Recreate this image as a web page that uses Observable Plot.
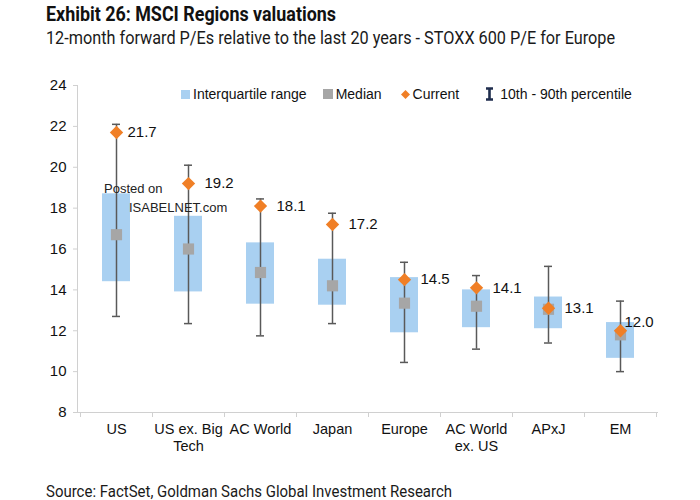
<!DOCTYPE html>
<html>
<head>
<meta charset="utf-8">
<script src="https://cdn.jsdelivr.net/npm/d3@7"></script>
<script src="https://cdn.jsdelivr.net/npm/@observablehq/plot@0.6"></script>
<style>
  html, body { margin: 0; padding: 0; background: #fff; }
  #wrap { position: relative; width: 700px; height: 500px; overflow: hidden; }
  .cond { font-family: Roboto, "DejaVu Sans", sans-serif; color: #1a1a1a; line-height: 1; white-space: nowrap; transform-origin: 0 0; position: absolute; }
  #title { left: 46px; top: 4px; font-size: 20px; font-weight: bold; color: #111; }
  #subtitle { left: 46px; top: 29px; font-size: 18px; }
  #source { left: 46px; top: 482.5px; font-size: 17px; }
  #chart { position: absolute; left: 0; top: 60px; }
  #legend { position: absolute; left: 181px; top: 86px; font-family: "Liberation Sans", Arial, sans-serif; font-size: 14px; color: #111; display: flex; align-items: center; white-space: nowrap; }
  #legend .item { display: flex; align-items: center; }
  #legend svg { margin-right: 3px; }
  #wm { position: absolute; left: 104px; top: 179px; font-family: "Liberation Sans", Arial, sans-serif; font-size: 13px; color: #222; line-height: 19px; }
</style>
</head>
<body>
<div id="wrap">
  <div id="title" class="cond">Exhibit 26: MSCI Regions valuations</div>
  <div id="subtitle" class="cond">12-month forward P/Es relative to the last 20 years - STOXX 600 P/E for Europe</div>
  <div id="chart"></div>
  <div id="legend"></div>
  <div id="wm">Posted on<br><span style="margin-left:25px">ISABELNET.com</span></div>
  <div id="source" class="cond">Source: FactSet, Goldman Sachs Global Investment Research</div>
</div>
<script>
// ---- data ----
const categories = ["US", "US ex. Big Tech", "AC World", "Japan", "Europe", "AC World ex. US", "APxJ", "EM"];
const tickLabels = ["US", "US ex. Big\nTech", "AC World", "Japan", "Europe", "AC World\nex. US", "APxJ", "EM"];
const p10     = [12.7, 12.35, 11.75, 12.35, 10.45, 11.1, 11.4, 10.0];
const q1      = [14.4, 13.9, 13.3, 13.25, 11.9, 12.15, 12.1, 10.65];
const median  = [16.7, 16.0, 14.85, 14.2, 13.35, 13.2, 13.05, 11.8];
const q3      = [18.7, 17.6, 16.3, 15.5, 14.6, 14.0, 13.65, 12.4];
const p90     = [22.1, 20.1, 18.45, 17.75, 15.35, 14.7, 15.15, 13.45];
const current = [21.7, 19.2, 18.1, 17.2, 14.5, 14.1, 13.1, 12.0];
const yTicks  = [8, 10, 12, 14, 16, 18, 20, 22, 24];

const legendItems = ["Interquartile range", "Median", "Current", "10th - 90th percentile"];

const data = categories.map((c, i) => ({
  cat: c, p10: p10[i], q1: q1[i], median: median[i], q3: q3[i], p90: p90[i], current: current[i]
}));

const C_IQR = "#a9d0f1", C_MED = "#a6a6a6", C_CUR = "#f07f26", C_WHISK = "#595959", C_AXIS = "#d0d0d0";
const FONT = "Liberation Sans, Arial, sans-serif";

// fit condensed-looking header/footer text to the reference widths
[["title", 290], ["subtitle", 569], ["source", 406]].forEach(([id, w]) => {
  const el = document.getElementById(id);
  const cur = el.getBoundingClientRect().width;
  el.style.transform = `scaleX(${w / cur})`;
});

function axisLines(...args) {
  const scales = args.find(a => a && a.x && a.y && typeof a.x === "function");
  const dim = args.find(a => a && a.marginLeft !== undefined && a.width !== undefined);
  const g = d3.create("svg:g").attr("stroke", C_AXIS).attr("stroke-width", 1);
  const y0 = scales.y(yTicks[0]), y1 = scales.y(yTicks[yTicks.length - 1]);
  const xl = dim.marginLeft, xr = dim.width - dim.marginRight;
  g.append("line").attr("x1", xl + 0.5).attr("x2", xl + 0.5).attr("y1", y1).attr("y2", y0);
  g.append("line").attr("x1", xl).attr("x2", xr).attr("y1", y0 + 0.5).attr("y2", y0 + 0.5);
  const bw = scales.x.bandwidth();
  const edges = categories.map(c => scales.x(c)).concat([scales.x(categories[categories.length - 1]) + bw]);
  edges.forEach(x => g.append("line").attr("x1", Math.round(x) + 0.5).attr("x2", Math.round(x) + 0.5).attr("y1", y0).attr("y2", y0 + 5));
  return g.node();
}

const plot = Plot.plot({
  width: 700,
  height: 412,
  marginLeft: 77,
  marginRight: 42,
  marginTop: 25,
  marginBottom: 60,
  style: { fontFamily: FONT, fontSize: "14.5px", color: "#111", background: "transparent" },
  x: { domain: categories, padding: 0, label: null },
  y: { domain: [8, 24], label: null },
  marks: [
    Plot.axisY({ ticks: yTicks, tickSize: 4, stroke: C_AXIS, tickPadding: 7, fontSize: 15, label: null, fill: "#111" }),
    Plot.axisX({ tickSize: 0, tickPadding: 9, tickFormat: (d) => tickLabels[categories.indexOf(d)], lineHeight: 1.2, fontSize: 14.5, label: null, fill: "#111" }),
    axisLines,
    Plot.barY(data, { x: "cat", y1: "q1", y2: "q3", fill: C_IQR, insetLeft: 22, insetRight: 22 }),
    Plot.ruleX(data, { x: "cat", y1: "p10", y2: "p90", stroke: C_WHISK, strokeWidth: 1.5 }),
    Plot.tickY(data, { x: "cat", y: "p90", stroke: C_WHISK, strokeWidth: 1.5, insetLeft: 32, insetRight: 32 }),
    Plot.tickY(data, { x: "cat", y: "p10", stroke: C_WHISK, strokeWidth: 1.5, insetLeft: 32, insetRight: 32 }),
    Plot.dot(data, { x: "cat", y: "median", symbol: "square", r: 6.3, fill: C_MED, stroke: null }),
    Plot.dot(data, { x: "cat", y: "current", symbol: "diamond2", r: 6, fill: C_CUR, stroke: null }),
    Plot.text(data.filter(d => d.cat === "US"), { x: "cat", y: "current", text: d => d.current.toFixed(1), textAnchor: "start", dx: 11, fontSize: 15, fill: "#111" }),
    Plot.text(data.filter(d => d.cat !== "US" && d.cat !== "EM"), { x: "cat", y: "current", text: d => d.current.toFixed(1), textAnchor: "start", dx: 16, fontSize: 15, fill: "#111" }),
    Plot.text(data.filter(d => d.cat === "EM"), { x: "cat", y: "current", text: d => d.current.toFixed(1), textAnchor: "start", dx: 4, dy: -9, fontSize: 15, fill: "#111" })
  ]
});
document.getElementById("chart").appendChild(plot);

// legend
const lg = document.getElementById("legend");
const swatches = [
  `<svg width="9" height="9"><rect width="9" height="9" fill="${C_IQR}"/></svg>`,
  `<svg width="10" height="10"><rect width="10" height="10" fill="${C_MED}"/></svg>`,
  `<svg width="9" height="9"><path d="M4.5,0L9,4.5L4.5,9L0,4.5Z" fill="${C_CUR}"/></svg>`,
  `<svg width="9" height="14" style="margin-right:6px"><path d="M1,1.5H8M4.5,1.5V12.5M1,12.5H8" stroke="#1f2d4d" stroke-width="2.6" fill="none"/></svg>`
];
const gaps = [16, 19, 26, 0];
legendItems.forEach((t, i) => {
  const el = document.createElement("div");
  el.className = "item";
  el.style.marginRight = gaps[i] + "px";
  el.innerHTML = swatches[i] + `<span>${t}</span>`;
  lg.appendChild(el);
});
</script>
</body>
</html>
